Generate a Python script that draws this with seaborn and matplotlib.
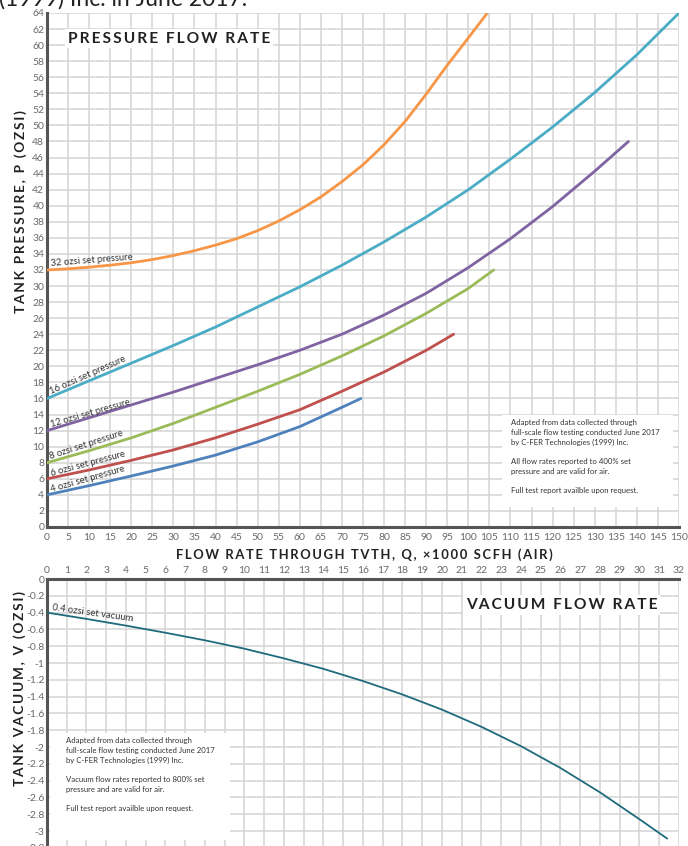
import seaborn as sns
import matplotlib.pyplot as plt
import pandas as pd
from matplotlib.patches import Rectangle
from matplotlib.ticker import FuncFormatter

# pressure curves: flow (x1000 SCFH) vs tank pressure (ozsi), per set pressure
flow_4 = [0, 10, 20, 30, 40, 50, 60, 70, 74.5]
pres_4 = [4, 5.15, 6.35, 7.6, 8.95, 10.6, 12.5, 14.9, 16]
flow_6 = [0, 10, 20, 30, 40, 50, 60, 70, 80, 90, 96.5]
pres_6 = [6, 7.1, 8.3, 9.6, 11.1, 12.8, 14.6, 16.9, 19.3, 22.0, 24]
flow_8 = [0, 10, 20, 30, 40, 50, 60, 70, 80, 90, 100, 106]
pres_8 = [8, 9.5, 11.1, 12.9, 14.9, 16.9, 19.0, 21.3, 23.8, 26.6, 29.7, 32]
flow_12 = [0, 10, 20, 30, 40, 50, 60, 70, 80, 90, 100, 110, 120, 130, 138]
pres_12 = [12, 13.6, 15.2, 16.8, 18.5, 20.2, 22.0, 24.0, 26.4, 29.1, 32.3, 35.9, 39.9, 44.3, 48]
flow_16 = [0, 10, 20, 30, 40, 50, 60, 70, 80, 90, 100, 110, 120, 130, 140, 150]
pres_16 = [16, 18.2, 20.4, 22.6, 24.9, 27.4, 29.9, 32.6, 35.5, 38.6, 42.0, 45.8, 49.8, 54.1, 58.8, 64]
flow_32 = [0, 5, 10, 15, 20, 25, 30, 35, 40, 45, 50, 55, 60, 65, 70, 75, 80,
           85, 90, 95, 100, 104.5]
pres_32 = [32, 32.15, 32.35, 32.6, 32.9, 33.3, 33.8, 34.4, 35.1, 35.9, 36.9,
           38.1, 39.5, 41.1, 43.0, 45.1, 47.6, 50.5, 53.9, 57.5, 60.9, 64]

set_names = ['4', '6', '8', '12', '16', '32']
set_colors = ['#4f81bd', '#c0504d', '#9bbb59', '#8064a2', '#4bacc6', '#f79646']

# vacuum curve: flow (x1000 SCFH) vs tank vacuum (ozsi)
flow_vac = [0, 2, 4, 6, 8, 10, 12, 14, 16, 18, 20, 22, 24, 26, 28, 30, 31.4]
vac = [-0.40, -0.475, -0.555, -0.64, -0.73, -0.83, -0.945, -1.07, -1.215,
       -1.375, -1.555, -1.76, -1.99, -2.25, -2.54, -2.86, -3.09]

note_pressure = ("Adapted from data collected through\n"
                 "full-scale flow testing conducted June 2017\n"
                 "by C-FER Technologies (1999) Inc.\n\n"
                 "All flow rates reported to 400% set\n"
                 "pressure and are valid for air.\n\n"
                 "Full test report availble upon request.")
note_vacuum = ("Adapted from data collected through\n"
               "full-scale flow testing conducted June 2017\n"
               "by C-FER Technologies (1999) Inc.\n\n"
               "Vacuum flow rates reported to 800% set\n"
               "pressure and are valid for air.\n\n"
               "Full test report availble upon request.")

sns.set_theme(style='white')
plt.rcParams['font.family'] = ['Lato', 'DejaVu Sans']
plt.rcParams['axes.unicode_minus'] = False


def spaced(s):
    return '\u2009'.join(s)


flows = [flow_4, flow_6, flow_8, flow_12, flow_16, flow_32]
press = [pres_4, pres_6, pres_8, pres_12, pres_16, pres_32]
rows = []
for name, fx, py in zip(set_names, flows, press):
    for a, b in zip(fx, py):
        rows.append({'set': name, 'flow': a, 'pressure': b})
df = pd.DataFrame(rows)
df_vac = pd.DataFrame({'flow': flow_vac, 'vacuum': vac})

grid_c = '#d4d4d4'
spine_c = '#555555'
tick_c = '#6a6a6a'
text_c = '#333333'

fig = plt.figure(figsize=(6.88, 8.46), dpi=100)

# ---------- pressure chart ----------
ax = fig.add_axes([0.06831, 0.37707, 0.91860, 0.60757])
sns.lineplot(data=df, x='flow', y='pressure', hue='set', hue_order=set_names,
             palette=set_colors, linewidth=2.0, legend=False, sort=False,
             estimator=None, ax=ax, zorder=3)
ax.set_xlim(0, 150)
ax.set_ylim(0, 64)
ax.set_xticks(range(0, 151, 5))
ax.set_yticks(range(0, 65, 2))
ax.set_axisbelow(True)
ax.grid(True, color=grid_c, linewidth=1.1)
ax.tick_params(length=0, labelsize=7.5, labelcolor=tick_c)
ax.tick_params(axis='x', pad=4)
ax.tick_params(axis='y', pad=2)
for s in ['top', 'right']:
    ax.spines[s].set_visible(False)
for s in ['left', 'bottom']:
    ax.spines[s].set_color(spine_c)
    ax.spines[s].set_linewidth(2.2)
ax.set_xlabel(spaced('FLOW RATE THROUGH TVTH, Q, ×1000 SCFH (AIR)'),
              fontsize=9.4, fontweight='bold', color='#222222')
ax.xaxis.set_label_coords(0.5016, -0.0545)
ax.xaxis.label.set_va('center')
ax.set_ylabel(spaced('TANK PRESSURE, P (OZSI)'), fontsize=9.8,
              fontweight='bold', color='#222222')
ax.yaxis.set_label_coords(-0.0416, 0.613)
ax.yaxis.label.set_va('center')

ax.text(5, 60.8, spaced('PRESSURE FLOW RATE'), fontsize=11.2, fontweight='bold',
        color='#222222', ha='left', va='center', zorder=4,
        bbox=dict(facecolor='white', edgecolor='none', pad=2))

labels = [(1, 4.4, 16, '4 ozsi set pressure'),
          (1, 6.4, 15, '6 ozsi set pressure'),
          (0.8, 8.4, 18, '8 ozsi set pressure'),
          (1, 12.5, 16, '12 ozsi set pressure'),
          (1, 16.6, 24, '16 ozsi set pressure'),
          (1, 32.5, 4.5, '32 ozsi set pressure')]
for lx, ly, rot, txt in labels:
    ax.text(lx, ly, txt, fontsize=6.8, color=text_c, rotation=rot,
            rotation_mode='anchor', ha='left', va='baseline', zorder=4)

ax.add_patch(Rectangle((108, 2.5), 40.6, 11.5, facecolor='white',
                       edgecolor='none', zorder=1))
ax.text(110.1, 13.4, note_pressure, fontsize=5.6, color=text_c,
        ha='left', va='top', linespacing=1.45, zorder=2)

# ---------- vacuum chart ----------
ax2 = fig.add_axes([0.06831, -0.02199, 0.91860, 0.33759])
sns.lineplot(data=df_vac, x='flow', y='vacuum', color='#1f6b7d',
             linewidth=1.3, sort=False, estimator=None, ax=ax2, zorder=3)
ax2.set_xlim(0, 32)
ax2.set_ylim(-3.4, 0)
ax2.set_xticks(range(0, 33))
ax2.set_yticks([-0.2 * i for i in range(17)])
ax2.yaxis.set_major_formatter(FuncFormatter(lambda v, p: '%g' % (round(v, 1) + 0.0)))
ax2.xaxis.tick_top()
ax2.set_axisbelow(True)
ax2.grid(True, color=grid_c, linewidth=1.1)
ax2.tick_params(length=0, labelsize=7.5, labelcolor=tick_c)
ax2.tick_params(axis='x', pad=3)
ax2.tick_params(axis='y', pad=2)
for s in ['bottom', 'right']:
    ax2.spines[s].set_visible(False)
for s in ['left', 'top']:
    ax2.spines[s].set_color(spine_c)
    ax2.spines[s].set_linewidth(2.2)
ax2.set_xlabel('')
ax2.set_ylabel(spaced('TANK VACUUM, V (OZSI)'), fontsize=9.8,
               fontweight='bold', color='#222222')
ax2.yaxis.set_label_coords(-0.0427, 0.615)
ax2.yaxis.label.set_va('center')

ax2.text(21.2, -0.31, spaced('VACUUM FLOW RATE'), fontsize=11.2, fontweight='bold',
         color='#222222', ha='left', va='center', zorder=4,
         bbox=dict(facecolor='white', edgecolor='none', pad=2))
ax2.text(0.25, -0.37, '0.4 ozsi set vacuum', fontsize=6.8, color=text_c,
         rotation=-8, rotation_mode='anchor', ha='left', va='baseline', zorder=4)

ax2.add_patch(Rectangle((0.15, -3.11), 9.12, 1.28, facecolor='white',
                        edgecolor='none', zorder=1))
ax2.text(0.95, -1.88, note_vacuum, fontsize=5.6, color=text_c,
         ha='left', va='top', linespacing=1.45, zorder=2)

# leftover of the heading above the charts, cut by the top edge as in the source
fig.text(-0.002, 1 - 6 / 846, '(1999) Inc. in June 2017.', fontsize=16.5,
         color='#222222', ha='left', va='baseline')

fig.savefig('out.png', dpi=100)
